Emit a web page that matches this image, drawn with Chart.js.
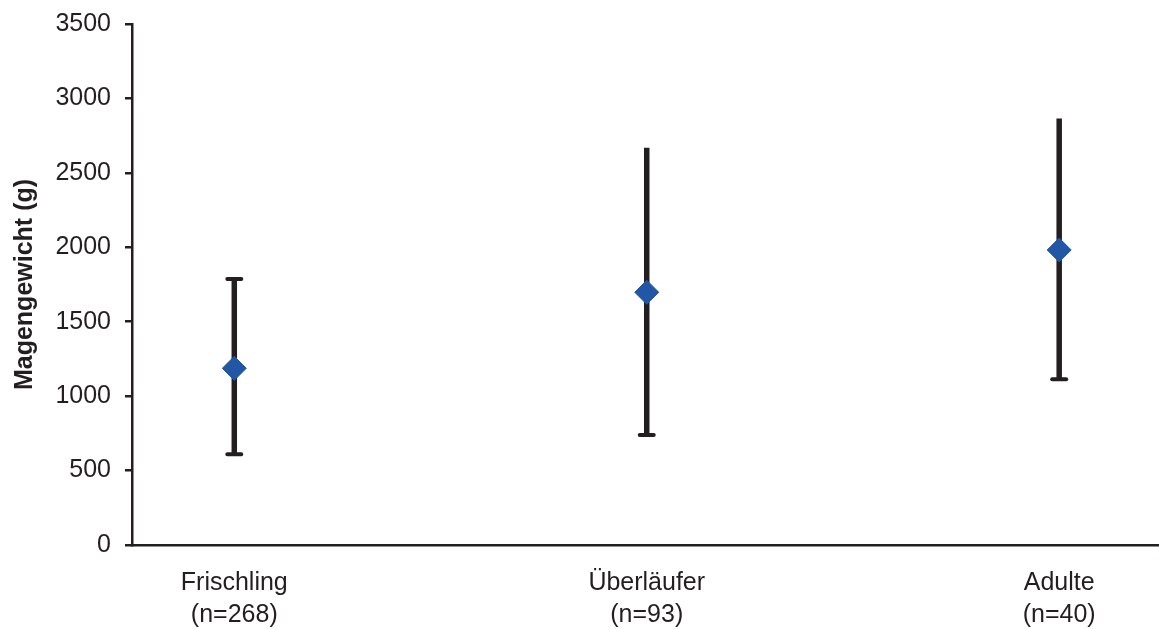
<!DOCTYPE html>
<html>
<head>
<meta charset="utf-8">
<script src="https://cdn.jsdelivr.net/npm/chart.js@4.4.0/dist/chart.umd.min.js"></script>
<style>
  html, body { margin: 0; padding: 0; background: #fff; }
  #wrap { position: relative; width: 1159px; height: 629px; }
</style>
</head>
<body>
<div id="wrap"><canvas id="chart"></canvas></div>
<script>
// data
const categories = ['Frischling', 'Überläufer', 'Adulte'];
const sampleSizes = ['(n=268)', '(n=93)', '(n=40)'];
const means = [1187, 1698, 1982];
const lows = [609, 739, 1113];
const highs = [1787, 2669, 2866];
const topCaps = [true, false, false]; // only the first bar has a cap on top

const yTicks = [0, 500, 1000, 1500, 2000, 2500, 3000, 3500];
const ink = '#231f20';
const blue = '#2257a6';
const fontFamily = "'Liberation Sans', Arial, sans-serif";

// vertical error bars drawn under the diamonds
const errorBars = {
  id: 'errorBars',
  beforeDatasetsDraw(chart) {
    const { ctx, scales: { x, y } } = chart;
    ctx.save();
    ctx.strokeStyle = ink;
    means.forEach((m, i) => {
      const px = x.getPixelForValue(i + 1);
      const yLo = y.getPixelForValue(lows[i]);
      const yHi = y.getPixelForValue(highs[i]);
      ctx.lineWidth = 5.5;
      ctx.lineCap = 'butt';
      ctx.beginPath();
      ctx.moveTo(px, yLo);
      ctx.lineTo(px, yHi);
      ctx.stroke();
      ctx.lineWidth = 4;
      ctx.lineCap = 'round';
      ctx.beginPath();
      ctx.moveTo(px - 7, yLo);
      ctx.lineTo(px + 7, yLo);
      if (topCaps[i]) {
        ctx.moveTo(px - 7, yHi);
        ctx.lineTo(px + 7, yHi);
      }
      ctx.stroke();
    });
    ctx.restore();
  }
};

new Chart(document.getElementById('chart'), {
  type: 'scatter',
  data: {
    datasets: [{
      data: means.map((m, i) => ({ x: i + 1, y: m })),
      pointStyle: 'rectRot',
      pointRadius: 12,
      pointHoverRadius: 12,
      backgroundColor: blue,
      borderColor: blue,
      borderWidth: 1
    }]
  },
  options: {
    responsive: true,
    maintainAspectRatio: false,
    animation: false,
    layout: { autoPadding: false, padding: { top: 24, right: 0, bottom: 0, left: 0 } },
    plugins: {
      legend: { display: false },
      tooltip: { enabled: false }
    },
    scales: {
      x: {
        type: 'linear',
        min: 0.752,
        max: 3.242,
        afterBuildTicks: s => { s.ticks = categories.map((c, i) => ({ value: i + 1 })); },
        afterFit: s => { s.height = 84; },
        grid: { display: false },
        border: { display: true, color: ink, width: 2.5 },
        ticks: {
          autoSkip: false,
          maxRotation: 0,
          padding: 14,
          color: ink,
          font: { family: fontFamily, size: 25, lineHeight: 1.28 },
          callback: v => [categories[v - 1], sampleSizes[v - 1]]
        }
      },
      y: {
        min: 0,
        max: 3500,
        afterBuildTicks: s => { s.ticks = yTicks.map(v => ({ value: v })); },
        afterFit: s => { s.width = 132; },
        grid: { drawOnChartArea: false, drawTicks: true, tickLength: 7, color: ink, lineWidth: 2.5 },
        border: { display: true, color: ink, width: 2.5 },
        ticks: {
          padding: 14,
          color: ink,
          font: { family: fontFamily, size: 25, lineHeight: 0.6 },
          callback: v => String(v)
        },
        title: {
          display: true,
          text: 'Magengewicht (g)',
          color: ink,
          padding: { top: 10, bottom: 0 },
          font: { family: fontFamily, size: 25, weight: 'bold' }
        }
      }
    }
  },
  plugins: [errorBars]
});
</script>
</body>
</html>
